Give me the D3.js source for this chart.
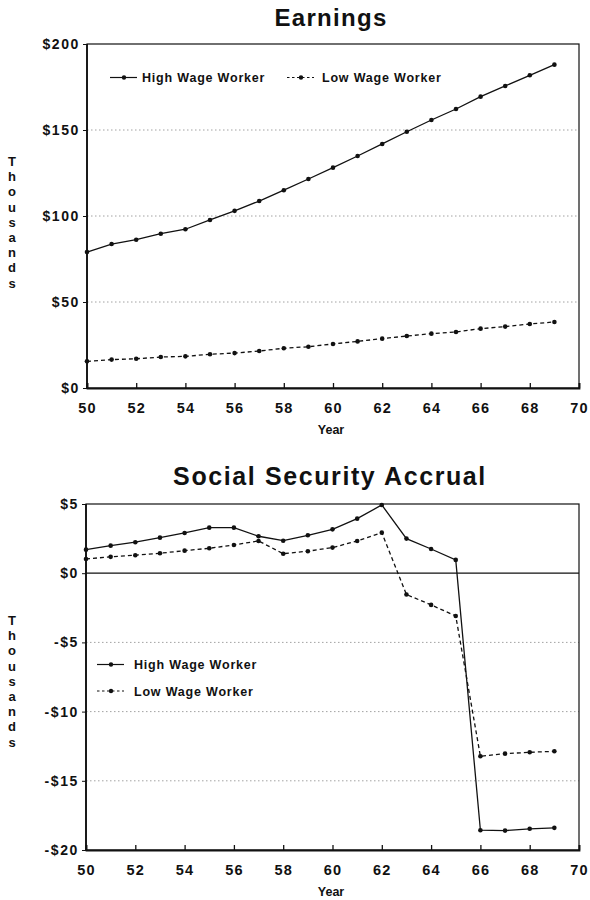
<!DOCTYPE html>
<html>
<head>
<meta charset="utf-8">
<script src="https://cdn.jsdelivr.net/npm/d3@7"></script>
<style>
    body { margin: 0; background: #fff; }
    svg text { font-family: "Liberation Sans", Arial, Helvetica, sans-serif; font-weight: bold; fill: #111; }
</style>
</head>
<body>
<svg id="chart" width="590" height="900"></svg>
<script>
var years = [50, 51, 52, 53, 54, 55, 56, 57, 58, 59, 60, 61, 62, 63, 64, 65, 66, 67, 68, 69];
var yearTicks = [50, 52, 54, 56, 58, 60, 62, 64, 66, 68, 70];

// earnings, thousands of dollars
var earnHigh = [79, 83.7, 86.2, 89.7, 92.3, 97.7, 103, 108.7, 115, 121.5, 128.1, 134.9, 141.9, 149, 155.8, 162.2, 169.4, 175.6, 181.8, 188];
var earnLow = [15.5, 16.5, 17, 18, 18.4, 19.6, 20.3, 21.5, 23.1, 24, 25.6, 27.1, 28.7, 30.2, 31.6, 32.6, 34.5, 35.7, 37.2, 38.4];
var earnTicks = [0, 50, 100, 150, 200];
var earnTickLabels = ['$0', '$50', '$100', '$150', '$200'];

// social security accrual, thousands of dollars
var accHigh = [1.7, 1.99, 2.24, 2.57, 2.91, 3.29, 3.29, 2.67, 2.35, 2.74, 3.17, 3.94, 4.93, 2.5, 1.75, 0.96, -18.57, -18.6, -18.47, -18.4];
var accLow = [1.03, 1.18, 1.3, 1.44, 1.63, 1.8, 2.04, 2.33, 1.41, 1.59, 1.85, 2.33, 2.93, -1.54, -2.29, -3.09, -13.23, -13.04, -12.94, -12.87];
var accTicks = [-20, -15, -10, -5, 0, 5];
var accTickLabels = ['-$20', '-$15', '-$10', '-$5', '$0', '$5'];

var seriesNames = ['High Wage Worker', 'Low Wage Worker'];

var svg = d3.select('#chart');

function drawPanel(opt) {
    var xScale = d3.scaleLinear().domain([50, 70]).range([opt.left, opt.right]);
    var yScale = d3.scaleLinear().domain(opt.domain).range([opt.bottom, opt.top]);
    var g = svg.append('g');

    // dotted grid
    g.selectAll('.grid')
        .data(opt.ticks.filter(function (d) { return d != opt.domain[0] && d != opt.domain[1] && d != 0; }))
        .enter()
        .append('line')
        .attr('x1', opt.left)
        .attr('x2', opt.right)
        .attr('y1', function (d) { return yScale(d); })
        .attr('y2', function (d) { return yScale(d); })
        .attr('stroke', '#8a8a8a')
        .attr('stroke-width', 0.8)
        .attr('stroke-dasharray', '1.5,2.5');

    if (opt.zeroLine) {
        g.append('line')
            .attr('x1', opt.left).attr('x2', opt.right)
            .attr('y1', yScale(0)).attr('y2', yScale(0))
            .attr('stroke', '#111').attr('stroke-width', 1.2);
    }

    // frame
    g.append('rect')
        .attr('x', opt.left).attr('y', opt.top)
        .attr('width', opt.right - opt.left).attr('height', opt.bottom - opt.top)
        .attr('fill', 'none').attr('stroke', '#111').attr('stroke-width', 1.2);
    g.append('line')
        .attr('x1', opt.left).attr('x2', opt.left)
        .attr('y1', opt.top).attr('y2', opt.bottom)
        .attr('stroke', '#111').attr('stroke-width', 1.8);

    // x axis: ticks pointing up into the plot
    var xAxis = d3.axisBottom(xScale).tickValues(yearTicks).tickSize(-5).tickPadding(13)
        .tickFormat(function (d) { return d; });
    var xg = g.append('g')
        .attr('transform', 'translate(0,' + opt.bottom + ')')
        .call(xAxis);
    xg.select('.domain').attr('stroke', '#111').attr('stroke-width', 1.8);
    xg.selectAll('.tick line').attr('stroke', '#111').attr('stroke-width', 1.3);
    xg.selectAll('.tick text')
        .style('font-size', '14.5px')
        .style('letter-spacing', '1.2px')
        .attr('dy', '0.85em');

    // y axis
    var yAxis = d3.axisLeft(yScale).tickValues(opt.ticks).tickSize(4).tickPadding(3)
        .tickFormat(function (d, i) { return opt.tickLabels[i]; });
    var yg = g.append('g')
        .attr('transform', 'translate(' + opt.left + ',0)')
        .call(yAxis);
    yg.select('.domain').remove();
    yg.selectAll('.tick line').attr('stroke', '#111');
    yg.selectAll('.tick text')
        .style('font-size', '14px')
        .style('letter-spacing', '1.6px');

    // lines
    var line = d3.line()
        .x(function (d, i) { return xScale(years[i]); })
        .y(function (d) { return yScale(d); });

    opt.series.forEach(function (s, k) {
        g.append('path')
            .datum(s)
            .attr('d', line)
            .attr('fill', 'none')
            .attr('stroke', '#111')
            .attr('stroke-width', 1.3)
            .attr('stroke-dasharray', k == 1 ? '4,3' : null);
        g.selectAll('.dot' + k)
            .data(s)
            .enter()
            .append('circle')
            .attr('cx', function (d, i) { return xScale(years[i]); })
            .attr('cy', function (d) { return yScale(d); })
            .attr('r', 2.3)
            .attr('fill', '#111');
    });

    // title
    svg.append('text')
        .attr('x', opt.titleX)
        .attr('y', opt.titleY)
        .attr('text-anchor', 'middle')
        .style('font-size', opt.titleSize + 'px')
        .style('letter-spacing', opt.titleSpacing + 'px')
        .text(opt.title);

    // x title
    svg.append('text')
        .attr('x', 331)
        .attr('y', opt.bottom + 46)
        .attr('text-anchor', 'middle')
        .style('font-size', '12.5px')
        .text('Year');

    // stacked y title
    var letters = 'Thousands'.split('');
    svg.selectAll(null)
        .data(letters)
        .enter()
        .append('text')
        .attr('x', 12)
        .attr('y', function (d, i) { return opt.yTitleTop + i * 15.2; })
        .attr('text-anchor', 'middle')
        .style('font-size', '13px')
        .text(function (d) { return d; });

    // legend
    opt.legend.forEach(function (p, k) {
        g.append('line')
            .attr('x1', p[0]).attr('x2', p[0] + 27)
            .attr('y1', p[1]).attr('y2', p[1])
            .attr('stroke', '#111')
            .attr('stroke-width', 1.2)
            .attr('stroke-dasharray', k == 1 ? '2.5,2.5' : null);
        g.append('circle')
            .attr('cx', p[0] + 14).attr('cy', p[1]).attr('r', 2.2).attr('fill', '#111');
        g.append('text')
            .attr('x', p[2])
            .attr('y', p[1] + 4.6)
            .style('font-size', '12.5px')
            .style('letter-spacing', '0.8px')
            .text(seriesNames[k]);
    });
}

drawPanel({
    left: 87, right: 579, top: 44, bottom: 388,
    domain: [0, 200], ticks: earnTicks, tickLabels: earnTickLabels,
    series: [earnHigh, earnLow],
    title: 'Earnings', titleX: 331, titleY: 26, titleSize: 24, titleSpacing: 1.3,
    yTitleTop: 166,
    legend: [[110, 77.5, 142], [287, 77.5, 322]]
});

drawPanel({
    left: 86, right: 579, top: 504, bottom: 850,
    domain: [-20, 5], ticks: accTicks, tickLabels: accTickLabels,
    series: [accHigh, accLow], zeroLine: true,
    title: 'Social Security Accrual', titleX: 330, titleY: 485, titleSize: 25, titleSpacing: 1.6,
    yTitleTop: 625,
    legend: [[97, 664.5, 134], [97, 691, 134]]
});
</script>
</body>
</html>
